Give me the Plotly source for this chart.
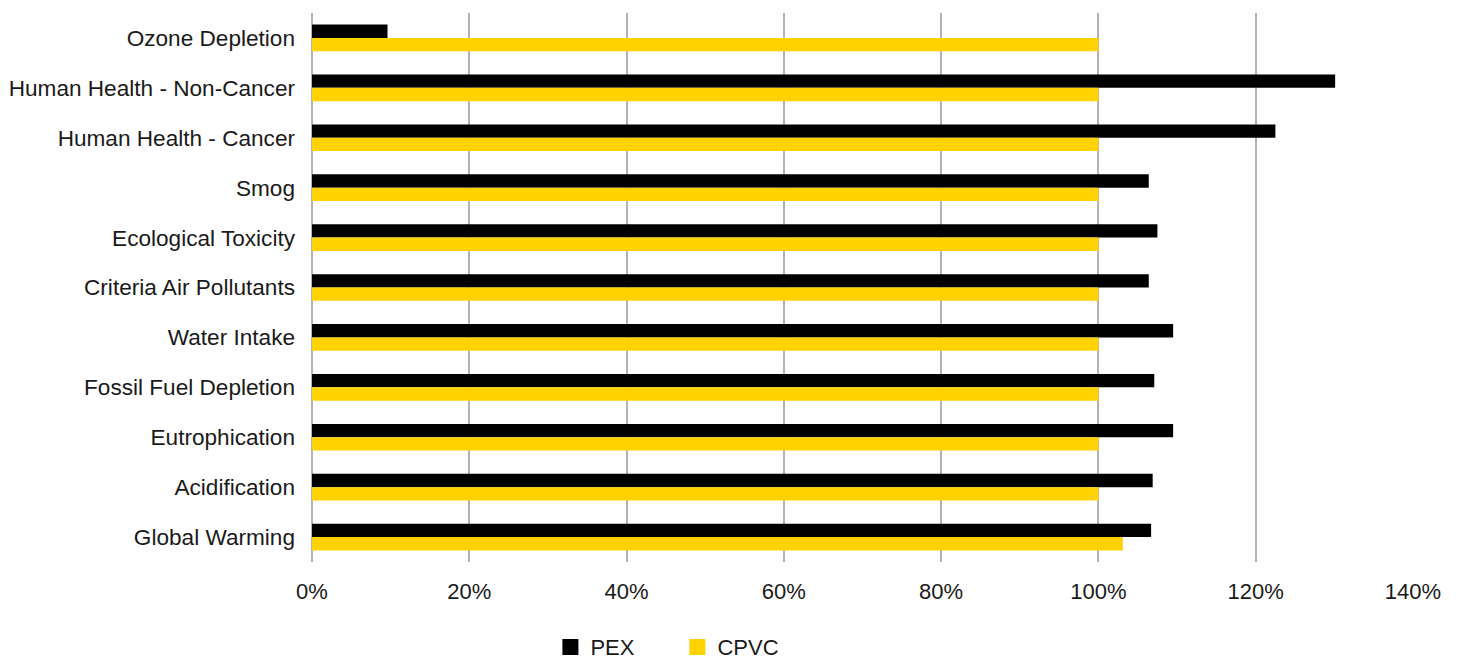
import plotly.graph_objects as go

categories = ["Ozone Depletion", "Human Health - Non-Cancer", "Human Health - Cancer",
              "Smog", "Ecological Toxicity", "Criteria Air Pollutants", "Water Intake",
              "Fossil Fuel Depletion", "Eutrophication", "Acidification", "Global Warming"]
pex = [0.096, 1.301, 1.225, 1.064, 1.075, 1.064, 1.095, 1.071, 1.095, 1.069, 1.067]
cpvc = [1.0, 1.0, 1.0, 1.0, 1.0, 1.0, 1.0, 1.0, 1.0, 1.0, 1.031]
series_names = ["PEX", "CPVC"]
series_colors = ["#000000", "#FFD200"]
x_ticks = [0, 0.2, 0.4, 0.6, 0.8, 1.0, 1.2, 1.4]

FONT = "Liberation Sans, Arial, sans-serif"
TXT = "#1a1a1a"

fig = go.Figure()
for name, vals, col in zip(series_names, [pex, cpvc], series_colors):
    fig.add_trace(go.Bar(y=categories, x=vals, name=name, orientation="h",
                         marker=dict(color=col, line=dict(width=0)),
                         showlegend=False, legendgroup=name))
# legend entries with larger square swatches
for name, col in zip(series_names, series_colors):
    fig.add_trace(go.Scatter(x=[None], y=[None], mode="markers", name=name,
                             legendgroup=name,
                             marker=dict(symbol="square", size=16, color=col,
                                         line=dict(width=0))))

fig.update_layout(
    width=1465, height=663,
    margin=dict(l=312, r=52, t=13, b=101, autoexpand=False),
    barmode="group", bargap=0.465, bargroupgap=0,
    plot_bgcolor="white", paper_bgcolor="white",
    font=dict(family=FONT, size=22, color=TXT),
    showlegend=True,
    legend=dict(orientation="h", xref="container", yref="container",
                x=0.3757, xanchor="left", y=0.024, yanchor="middle",
                font=dict(size=22, family=FONT, color=TXT),
                entrywidth=82, itemsizing="trace", itemwidth=30),
    hovermode=False,
)
fig.update_xaxes(range=[0, 1.4], tickvals=x_ticks, tickformat=".0%",
                 showgrid=True, gridcolor="#b3b3b3", gridwidth=1.5,
                 zeroline=True, zerolinecolor="#b3b3b3", zerolinewidth=1.5,
                 showline=False, ticks="", ticklabelstandoff=14,
                 tickfont=dict(size=22, family=FONT, color=TXT))
fig.update_yaxes(categoryorder="array", categoryarray=categories, autorange="reversed",
                 showgrid=False, showline=False, ticks="", ticklabelstandoff=16,
                 tickfont=dict(size=22.6, family=FONT, color=TXT))

fig.write_html("out.html")
